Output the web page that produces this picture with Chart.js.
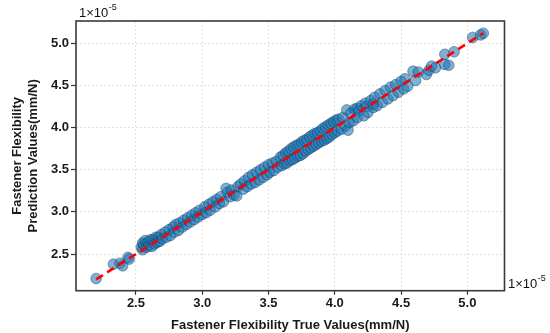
<!DOCTYPE html>
<html>
<head>
<meta charset="utf-8">
<script src="https://cdn.jsdelivr.net/npm/chart.js@4.4.1/dist/chart.umd.min.js"></script>
<style>
html,body{margin:0;padding:0;background:#fff;}
#wrap{width:550px;height:333px;position:relative;}
</style>
</head>
<body>
<div id="wrap"><canvas id="c" width="550" height="333"></canvas></div>
<script>
// Values in units of 1e-5 mm/N
const trueVals = [
 2.20,2.33,2.38,2.40,2.44,2.45,
 2.54,2.55,2.55,2.56,2.57,2.58,2.59,2.60,2.61,2.62,2.63,2.64,2.65,2.66,2.67,2.68,2.69,2.70,2.72,2.73,
 2.75,2.76,2.78,2.79,2.80,2.82,2.83,2.85,2.86,2.88,2.89,2.91,2.92,2.94,2.95,2.97,2.98,3.00,
 3.02,3.03,3.05,3.06,3.08,3.10,3.11,3.13,3.14,3.16,3.18,3.19,3.21,3.22,3.24,3.26,3.27,3.29,
 3.31,3.32,3.34,3.35,3.37,3.38,3.40,3.41,3.43,3.44,3.46,3.47,3.49,3.50,3.51,3.53,3.54,3.56,3.57,3.59,
 3.60,3.61,3.62,3.63,3.64,3.65,3.66,3.67,3.68,3.69,3.70,3.71,3.72,3.73,3.74,3.75,3.76,3.77,3.78,3.79,3.80,3.81,3.82,3.83,3.84,3.85,3.86,3.87,3.88,3.89,
 3.90,3.91,3.92,3.93,3.94,3.95,3.96,3.97,3.98,3.99,4.00,4.01,4.02,4.03,4.05,4.06,4.08,4.09,4.10,4.11,4.12,4.14,4.15,4.17,4.17,4.18,
 4.20,4.22,4.23,4.24,4.25,4.27,4.29,4.29,4.30,4.32,4.34,4.36,4.38,4.40,4.42,4.44,4.46,4.48,4.50,4.52,4.53,4.55,
 4.59,4.61,4.63,4.69,4.71,4.73,4.76,4.83,4.86,4.83,4.90,5.04,5.10,5.12
];
const predVals = [
 2.21,2.38,2.39,2.36,2.46,2.44,
 2.58,2.55,2.63,2.61,2.66,2.58,2.64,2.60,2.67,2.59,2.67,2.62,2.70,2.64,2.70,2.65,2.73,2.68,2.76,2.70,
 2.79,2.72,2.82,2.76,2.85,2.78,2.87,2.82,2.90,2.85,2.93,2.88,2.96,2.91,2.99,2.94,3.02,2.97,
 3.06,2.99,3.09,3.02,3.12,3.06,3.15,3.10,3.18,3.12,3.28,3.23,3.18,3.26,3.20,3.19,3.30,3.33,
 3.27,3.37,3.30,3.41,3.33,3.44,3.35,3.47,3.38,3.50,3.41,3.53,3.44,3.56,3.47,3.58,3.49,3.60,3.53,3.65,
 3.55,3.67,3.57,3.70,3.58,3.72,3.61,3.75,3.62,3.77,3.64,3.79,3.66,3.80,3.67,3.83,3.69,3.85,3.72,3.86,3.74,3.89,3.76,3.91,3.78,3.93,3.80,3.94,3.82,3.96,
 3.84,3.99,3.85,4.01,3.87,4.03,3.89,4.05,3.92,4.07,3.94,4.09,3.96,4.10,3.98,4.12,4.02,4.21,3.97,4.06,4.17,4.08,4.22,4.12,4.23,4.20,
 4.26,4.14,4.29,4.25,4.18,4.32,4.24,4.28,4.36,4.26,4.40,4.30,4.44,4.34,4.48,4.38,4.51,4.42,4.55,4.46,4.58,4.49,
 4.67,4.56,4.66,4.63,4.68,4.73,4.71,4.75,4.74,4.87,4.90,5.07,5.10,5.12
];
const lineX = [2.20, 5.12];
const lineY = [2.20, 5.12];
const tickVals = [2.5, 3.0, 3.5, 4.0, 4.5, 5.0];
const offsetLabel = ["1\u00d710", "-5"];

const pts = trueVals.map((x,i)=>({x:x, y:predVals[i]}));
const linePts = lineX.map((x,i)=>({x:x, y:lineY[i]}));

const FONT = "'Liberation Sans', Arial, sans-serif";

const framePlugin = {
  id:'frame',
  afterDatasetsDraw(chart){
    const {ctx, chartArea:a} = chart;
    ctx.save();
    ctx.strokeStyle = '#3a3a3a';
    ctx.lineWidth = 1.6;
    ctx.setLineDash([]);
    ctx.strokeRect(a.left, a.top, a.right-a.left, a.bottom-a.top);
    ctx.fillStyle = '#111';
    ctx.textBaseline = 'alphabetic';
    ctx.textAlign = 'left';
    function drawOff(x, y){
      ctx.font = "13px " + FONT;
      ctx.fillText(offsetLabel[0], x, y);
      const w = ctx.measureText(offsetLabel[0]).width;
      ctx.font = "9px " + FONT;
      ctx.fillText(offsetLabel[1], x + w + 0.5, y - 7);
    }
    drawOff(a.left + 3, a.top - 4);
    drawOff(a.right + 3.5, a.bottom - 3);
    ctx.restore();
  }
};

new Chart(document.getElementById('c'), {
  type: 'scatter',
  data: {
    datasets: [
      {
        type:'line',
        data: linePts,
        borderColor: '#ff0000',
        borderWidth: 2.6,
        borderDash: [8,5],
        pointRadius: 0,
        fill: false,
        order: 0
      },
      {
        data: pts,
        backgroundColor: 'rgba(31,119,180,0.58)',
        borderColor: 'rgba(10,50,90,0.55)',
        borderWidth: 0.8,
        pointRadius: 5.3,
        order: 1
      }
    ]
  },
  options: {
    responsive: false,
    animation: false,
    devicePixelRatio: 1,
    layout: { padding: { top: 21, right: 45.5, left: 0, bottom: 0 } },
    plugins: { legend: { display: false }, tooltip: { enabled: false } },
    scales: {
      x: {
        type: 'linear',
        min: 2.048, max: 5.28,
        afterBuildTicks: s => { s.ticks = tickVals.map(v=>({value:v})); },
        afterFit: s => { s.height = 42.3; },
        ticks: {
          callback: v => v.toFixed(1),
          font: { family: FONT, size: 13, weight: 'bold' },
          color: '#1a1a1a',
          padding: 1,
          maxRotation: 0
        },
        grid: {
          color: '#dcdcdc',
          lineWidth: 0.8,
          tickColor: '#333',
          tickLength: 4,
          tickBorderDash: [],
          tickWidth: 1.2,
          drawOnChartArea: true
        },
        border: { display: false, dash: [2,2] },
        title: {
          display: true,
          text: 'Fastener Flexibility True Values(mm/N)',
          font: { family: FONT, size: 13, weight: 'bold' },
          color: '#1a1a1a',
          padding: { top: 3, bottom: 0 }
        }
      },
      y: {
        type: 'linear',
        min: 2.065, max: 5.265,
        afterBuildTicks: s => { s.ticks = tickVals.map(v=>({value:v})); },
        afterFit: s => { s.width = 76; },
        ticks: {
          callback: v => v.toFixed(1),
          font: { family: FONT, size: 13, weight: 'bold' },
          color: '#1a1a1a',
          padding: 2
        },
        grid: {
          color: '#dcdcdc',
          lineWidth: 0.8,
          tickColor: '#333',
          tickLength: 5,
          tickBorderDash: [],
          tickWidth: 1.2
        },
        border: { display: false, dash: [2,2] },
        title: {
          display: true,
          text: ['Fastener Flexibility', 'Prediction Values(mm/N)'],
          font: { family: FONT, size: 13, weight: 'bold', lineHeight: 1.25 },
          color: '#1a1a1a',
          padding: { top: 9, bottom: 0 }
        }
      }
    }
  },
  plugins: [framePlugin]
});
</script>
</body>
</html>
